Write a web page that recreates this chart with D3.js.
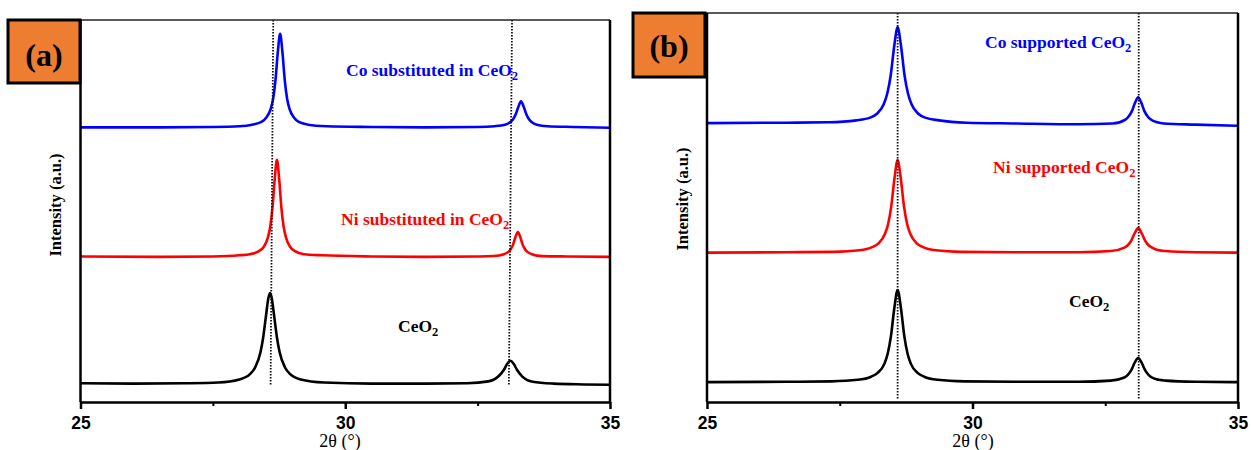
<!DOCTYPE html>
<html>
<head>
<meta charset="utf-8">
<script src="https://cdn.jsdelivr.net/npm/d3@7"></script>
<style>
  body { margin: 0; background: #fff; }
  svg { display: block; }
</style>
</head>
<body>
<svg id="chart" width="1251" height="450"></svg>
<script>
// XRD patterns. [2theta, intensity (a.u.)]
var xDomain = [25, 35];
var yDomain = [0, 1000];
var majorTicks = [25, 30, 35];
var minorTicks = [27.5, 32.5];

// panel (a)
var ceo2A = [[25, 49], [26, 48], [27, 49], [27.6, 51], [28, 59], [28.2, 73], [28.3, 91], [28.4, 131],
  [28.45, 169], [28.5, 222], [28.55, 273], [28.58, 285], [28.61, 273], [28.66, 222], [28.71, 169],
  [28.76, 131], [28.86, 91], [28.96, 73], [29.16, 59], [29.6, 51], [30.5, 48], [31.5, 48], [32.3, 49],
  [32.7, 54], [32.9, 68], [33, 85], [33.06, 100], [33.12, 108], [33.18, 100], [33.24, 85], [33.34, 67],
  [33.54, 53], [33.94, 48], [34.5, 46], [35, 45]];
var niSubA = [[25, 381], [26.5, 380], [27.5, 381], [28, 384], [28.2, 387], [28.37, 395], [28.455, 405],
  [28.54, 431], [28.5825, 458], [28.625, 507], [28.6675, 583], [28.71, 634], [28.7525, 583], [28.795, 507],
  [28.8375, 458], [28.88, 431], [28.965, 405], [29.05, 395], [29.22, 387], [29.56, 384], [30.5, 381],
  [31.5, 380], [32.5, 381], [32.8, 382], [33, 387], [33.08, 393], [33.125, 400], [33.17, 412], [33.215, 432],
  [33.26, 445], [33.305, 432], [33.35, 412], [33.395, 400], [33.44, 393], [33.52, 387], [33.72, 382],
  [34.2, 381], [35, 380]];
var coSubA = [[25, 719], [26.5, 719], [27.5, 720], [28, 722], [28.242, 726], [28.418, 733], [28.506, 744],
  [28.594, 768], [28.638, 794], [28.682, 842], [28.726, 915], [28.77, 964], [28.814, 915], [28.858, 842],
  [28.902, 794], [28.946, 768], [29.034, 744], [29.122, 733], [29.298, 726], [29.65, 722], [30.5, 720],
  [31.5, 719], [32.5, 720], [32.82, 722], [33.02, 726], [33.12, 733], [33.17, 740], [33.22, 753],
  [33.27, 773], [33.32, 787], [33.37, 773], [33.42, 753], [33.47, 740], [33.52, 733], [33.62, 726],
  [33.82, 722], [34.3, 720], [35, 718]];

// panel (b)
var ceo2B = [[25, 51], [26.5, 52], [27.34, 53], [27.84, 57], [28.09, 65], [28.215, 75], [28.34, 98],
  [28.4025, 124], [28.465, 170], [28.5275, 241], [28.59, 288], [28.6525, 241], [28.715, 170], [28.7775, 124],
  [28.84, 98], [28.965, 75], [29.09, 65], [29.34, 57], [29.84, 53], [30.8, 52], [32, 52], [32.6, 55],
  [32.86, 63], [32.925, 70], [32.99, 82], [33.055, 101], [33.12, 113], [33.185, 101], [33.25, 82],
  [33.315, 70], [33.38, 63], [33.51, 57], [33.64, 55], [34.2, 52], [35, 51]];
var niSupB = [[25, 384], [26.5, 385], [27.39, 386], [27.87, 390], [28.11, 398], [28.23, 408], [28.35, 432],
  [28.41, 457], [28.47, 503], [28.53, 574], [28.59, 622], [28.65, 574], [28.71, 503], [28.77, 457],
  [28.83, 432], [28.95, 408], [29.07, 398], [29.31, 390], [29.79, 386], [30.8, 385], [32, 385], [32.6, 388],
  [32.86, 397], [32.925, 403], [32.99, 415], [33.055, 434], [33.12, 447], [33.185, 434], [33.25, 415],
  [33.315, 403], [33.38, 397], [33.51, 390], [33.64, 388], [34.2, 385], [35, 384]];
var coSupB = [[25, 717], [26.5, 718], [27.29, 719], [27.81, 724], [28.07, 731], [28.2, 741], [28.33, 766],
  [28.395, 793], [28.46, 840], [28.525, 914], [28.59, 963], [28.655, 914], [28.72, 840], [28.785, 793],
  [28.85, 766], [28.98, 741], [29.11, 731], [29.37, 724], [29.89, 718], [30.8, 716], [32, 714], [32.64, 716],
  [32.88, 726], [32.94, 734], [33, 747], [33.06, 769], [33.12, 783], [33.18, 769], [33.24, 747], [33.3, 734],
  [33.36, 726], [33.48, 719], [33.6, 716], [34.2, 713], [35, 710]];

// dotted guide lines, [2theta at top, 2theta at bottom]
var guidesA = [[28.64, 28.59], [33.15, 33.09]];
var guidesB = [[28.59, 28.59], [33.13, 33.13]];

var seriesNamesA = ["Co substituted in CeO", "Ni substituted in CeO", "CeO"];
var seriesNamesB = ["Co supported CeO", "Ni supported CeO", "CeO"];
var seriesColors = ["#0000ff", "#ff0000", "#000000"];

var panels = [
  { tag: "(a)", data: [coSubA, niSubA, ceo2A], names: seriesNamesA, guides: guidesA,
    left: 80.5, right: 610, top: 20, bottom: 402, guideEnd: 386,
    box: [8, 20, 72, 63], tagY: 66, titleX: 340, yTitle: [55, 205],
    labelPos: [[346, 76], [341, 225], [398, 332]] },
  { tag: "(b)", data: [coSupB, niSupB, ceo2B], names: seriesNamesB, guides: guidesB,
    left: 707, right: 1238, top: 13, bottom: 402, guideEnd: 399,
    box: [633, 13, 72, 64], tagY: 57, titleX: 973, yTitle: [682, 199],
    labelPos: [[985, 48], [993, 173], [1069, 307]] }
];

var svg = d3.select("#chart");
svg.append("rect").attr("width", 1251).attr("height", 450).attr("fill", "#fff");

var serif = "'Liberation Serif', 'Times New Roman', serif";
var sans = "'Liberation Sans', Arial, sans-serif";

panels.forEach(function(p) {
  var x = d3.scaleLinear().domain(xDomain).range([p.left, p.right]);
  var y = d3.scaleLinear().domain(yDomain).range([p.bottom, p.top]);
  var g = svg.append("g");

  var line = d3.line()
    .x(function(d) { return x(d[0]); })
    .y(function(d) { return y(d[1]); })
    .curve(d3.curveMonotoneX);

  g.selectAll("path.xrd")
    .data(p.data)
    .enter().append("path")
    .attr("class", "xrd")
    .attr("d", line)
    .attr("fill", "none")
    .attr("stroke", function(d, i) { return seriesColors[i]; })
    .attr("stroke-width", 2.6)
    .attr("stroke-linejoin", "round");

  // dotted guide lines drawn over the patterns
  g.selectAll("line.guide")
    .data(p.guides)
    .enter().append("line")
    .attr("class", "guide")
    .attr("x1", function(d) { return x(d[0]); })
    .attr("x2", function(d) { return x(d[1]); })
    .attr("y1", p.top)
    .attr("y2", p.guideEnd)
    .attr("stroke", "#111")
    .attr("stroke-width", 1.8)
    .attr("stroke-dasharray", "1.6,1.4");

  // frame: top and right borders, left axis
  g.append("line").attr("x1", p.box[0]).attr("x2", p.right).attr("y1", p.top).attr("y2", p.top)
    .attr("stroke", "#222").attr("stroke-width", 1.6);
  g.append("line").attr("x1", p.right).attr("x2", p.right).attr("y1", p.top).attr("y2", p.bottom)
    .attr("stroke", "#000").attr("stroke-width", 2.5);
  g.append("line").attr("x1", p.left).attr("x2", p.left).attr("y1", p.top).attr("y2", p.bottom)
    .attr("stroke", "#000").attr("stroke-width", 2.5);

  // bottom axis
  var minor = g.append("g").attr("transform", "translate(0," + p.bottom + ")")
    .call(d3.axisBottom(x).tickValues(minorTicks).tickSize(4).tickSizeOuter(0).tickFormat(""));
  minor.select(".domain").remove();
  minor.selectAll(".tick line").attr("stroke-width", 2);

  var axis = g.append("g").attr("transform", "translate(0," + p.bottom + ")")
    .call(d3.axisBottom(x).tickValues(majorTicks).tickSize(7).tickSizeOuter(0).tickPadding(8)
      .tickFormat(d3.format("d")));
  axis.select(".domain").attr("stroke-width", 2.5);
  axis.selectAll(".tick line").attr("stroke-width", 2.5);
  axis.selectAll(".tick text")
    .attr("fill", "#000")
    .style("font-family", sans)
    .style("font-weight", "bold")
    .style("font-size", "17.5px");

  // axis titles
  svg.append("text")
    .attr("x", p.titleX).attr("y", 447)
    .attr("text-anchor", "middle")
    .style("font-family", serif).style("font-size", "18px")
    .text("2θ (°)");
  svg.append("text")
    .attr("transform", "translate(" + p.yTitle[0] + "," + p.yTitle[1] + ") rotate(-90)")
    .attr("text-anchor", "middle")
    .attr("dy", "0.35em")
    .style("font-family", serif).style("font-weight", "bold").style("font-size", "16.5px")
    .text("Intensity (a.u.)");

  // series labels with subscript 2
  p.names.forEach(function(name, i) {
    var t = svg.append("text")
      .attr("x", p.labelPos[i][0]).attr("y", p.labelPos[i][1])
      .attr("fill", seriesColors[i])
      .style("font-family", serif).style("font-weight", "bold").style("font-size", "17.5px");
    t.append("tspan").text(name);
    t.append("tspan").attr("dy", 4).style("font-size", "12.5px").text("2");
  });

  // panel tag box
  svg.append("rect")
    .attr("x", p.box[0]).attr("y", p.box[1]).attr("width", p.box[2]).attr("height", p.box[3])
    .attr("fill", "#ed7d31").attr("stroke", "#000").attr("stroke-width", 3);
  svg.append("text")
    .attr("x", p.box[0] + p.box[2] / 2).attr("y", p.tagY)
    .attr("text-anchor", "middle")
    .style("font-family", serif).style("font-weight", "bold").style("font-size", "32px")
    .text(p.tag);
});
</script>
</body>
</html>
